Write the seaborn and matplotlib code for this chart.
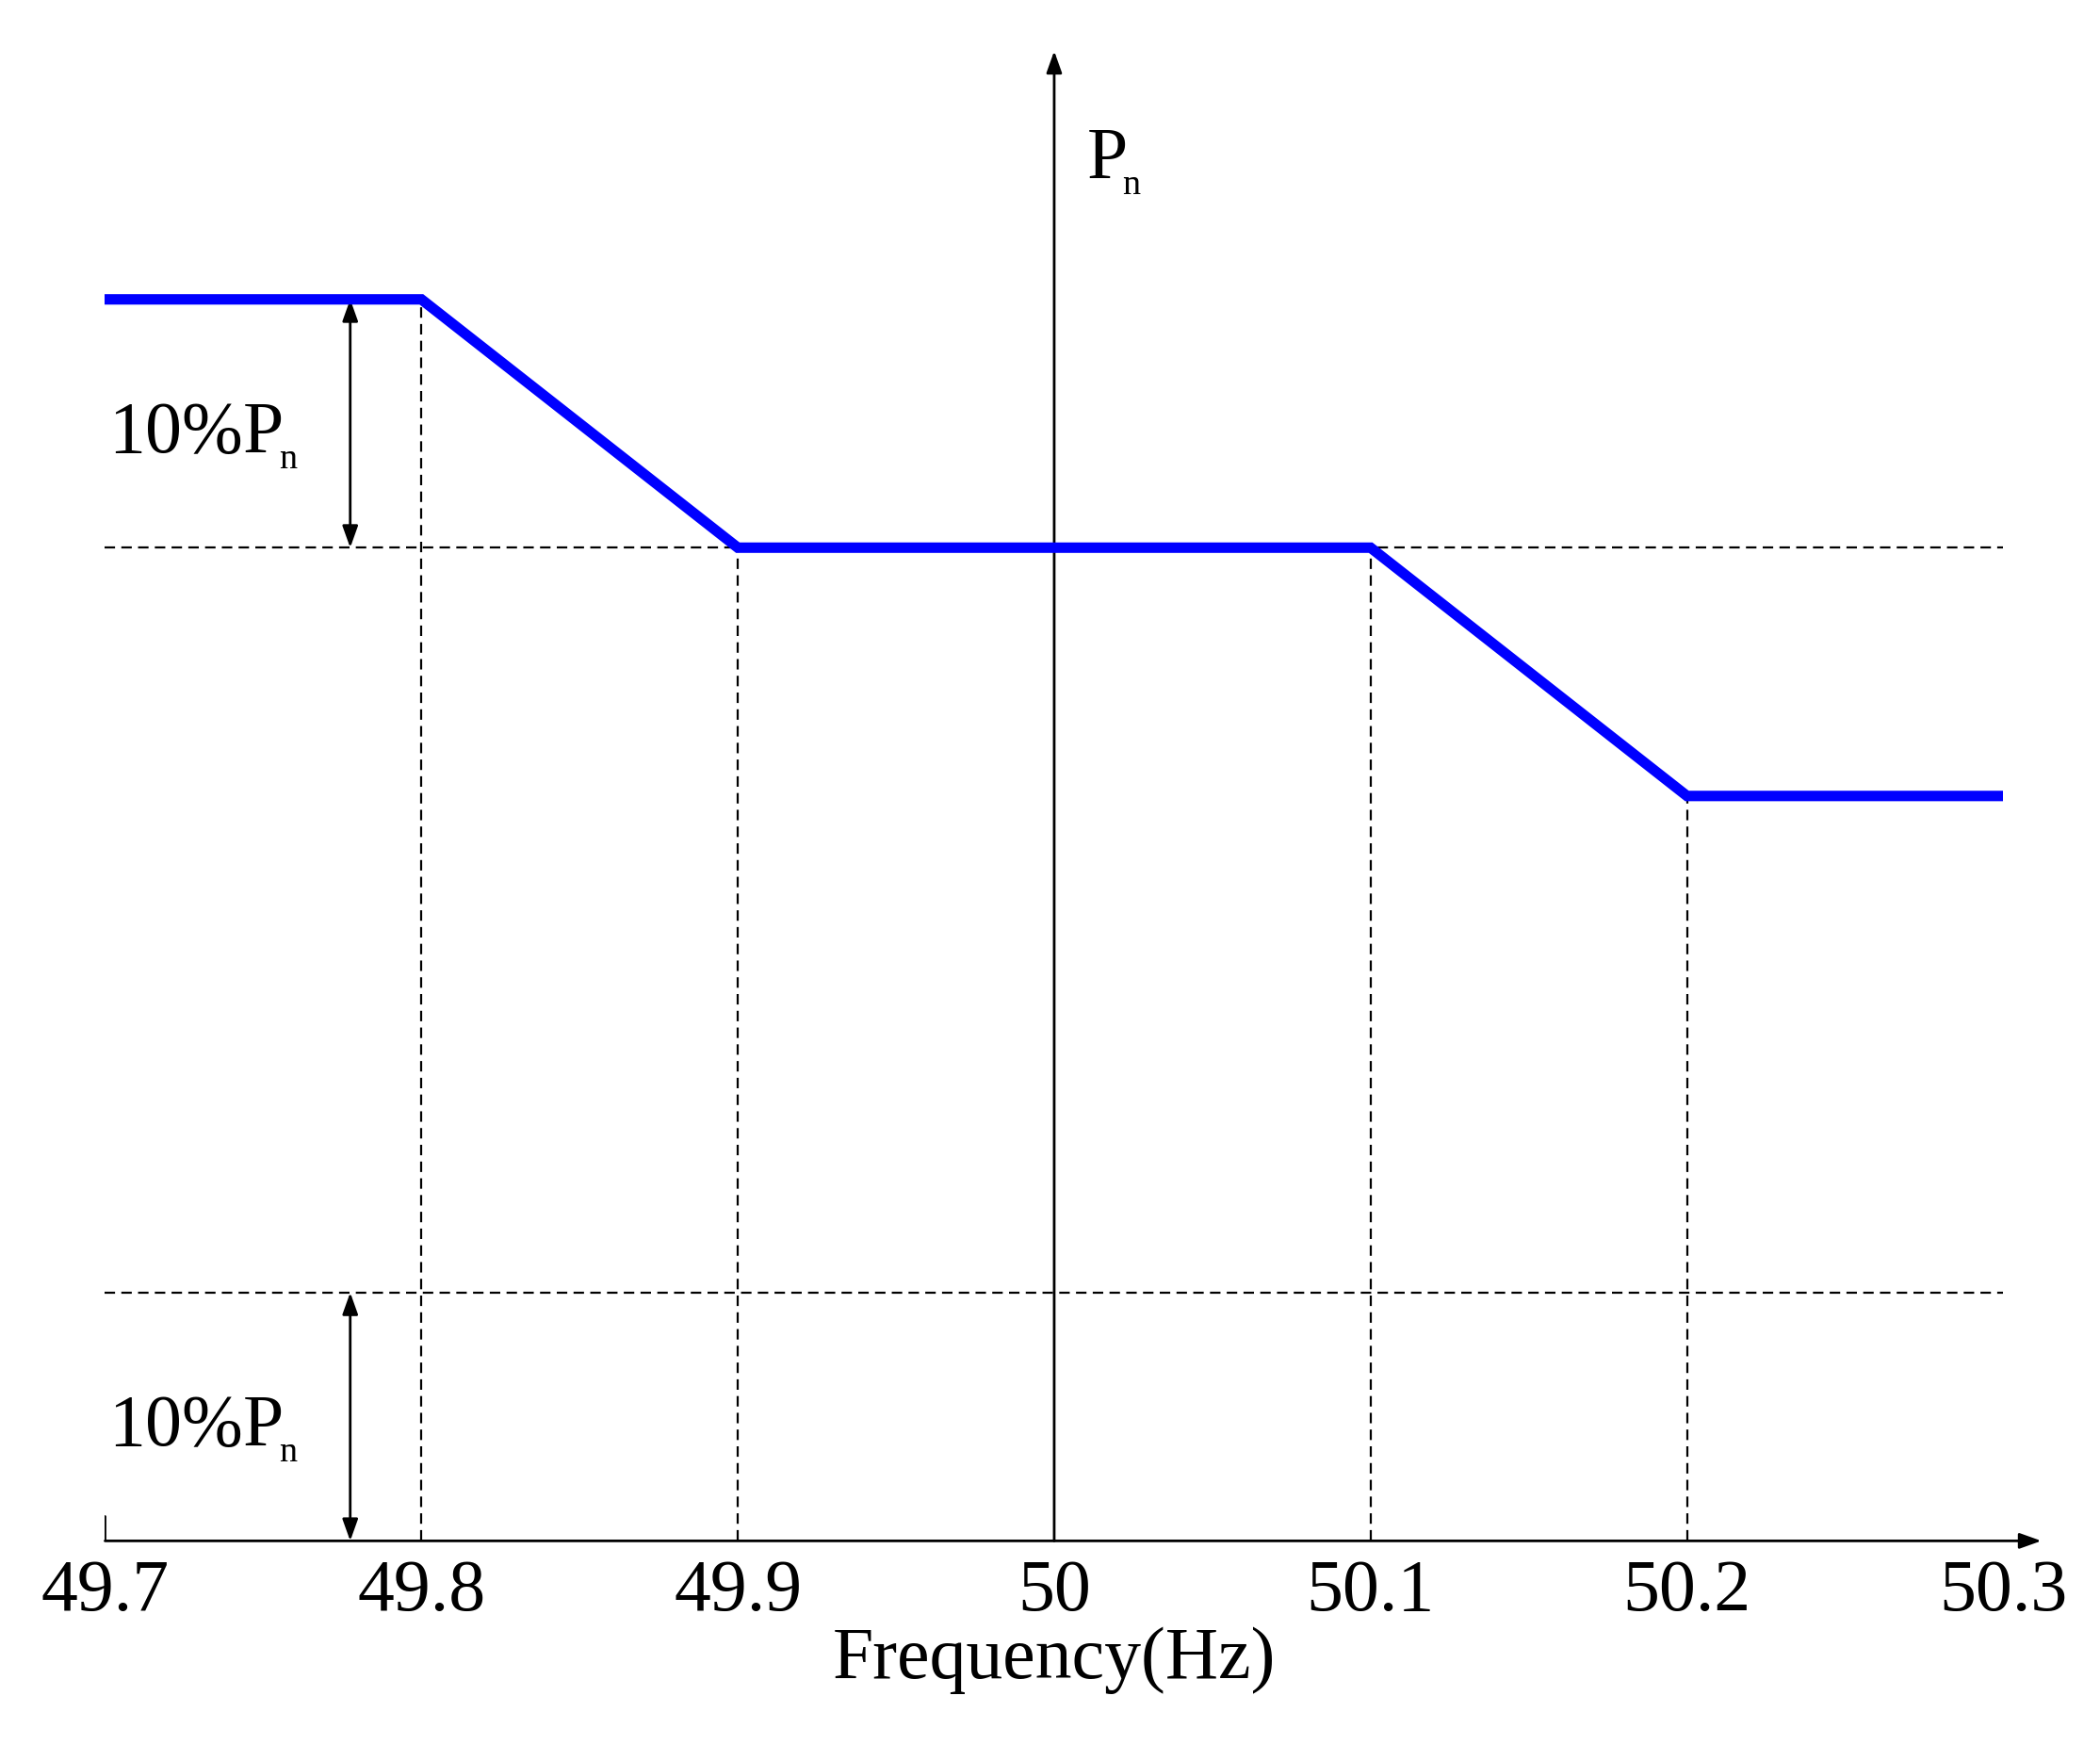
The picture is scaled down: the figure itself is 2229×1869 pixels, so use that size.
import matplotlib
matplotlib.use("Agg")
import matplotlib.pyplot as plt
import seaborn as sns
import pandas as pd

# Droop characteristic: frequency (Hz) vs output power (fraction of axis)
freq = [49.7, 49.8, 49.9, 50.1, 50.2, 50.3]
power = [0.5, 0.5, 0.4, 0.4, 0.3, 0.3]
tick_vals = [49.7, 49.8, 49.9, 50.0, 50.1, 50.2, 50.3]
tick_labels = ["49.7", "49.8", "49.9", "50", "50.1", "50.2", "50.3"]

sns.set_style("white")
plt.rcParams['font.family'] = ['Liberation Serif', 'DejaVu Serif']
plt.rcParams['mathtext.fontset'] = 'stix'
plt.rcParams['text.color'] = 'black'
plt.rcParams['xtick.color'] = 'black'
plt.rcParams['axes.labelcolor'] = 'black'

fig = plt.figure(figsize=(22.29, 18.69), dpi=100)
ax = fig.add_axes([0.05, 0.125, 0.904, 0.846])
ax.set_xlim(49.7, 50.3)
ax.set_ylim(0, 0.6)
for s in ax.spines.values():
    s.set_visible(False)

df = pd.DataFrame({"f": freq, "p": power})
sns.lineplot(data=df, x="f", y="p", ax=ax, color="#0000ff", linewidth=8,
             solid_joinstyle="miter", zorder=5)

dash = dict(color="black", linestyle=(0, (5, 3)), linewidth=1.6)
ax.plot([49.8, 49.8], [0, 0.5], **dash)
ax.plot([49.9, 49.9], [0, 0.4], **dash)
ax.plot([50.1, 50.1], [0, 0.4], **dash)
ax.plot([50.2, 50.2], [0, 0.3], **dash)
ax.plot([49.7, 50.3], [0.4, 0.4], **dash)
ax.plot([49.7, 50.3], [0.1, 0.1], **dash)

arr = dict(color="black", lw=2, shrinkA=0, shrinkB=0)
# axes with arrows
ax.annotate("", xy=(50.312, 0), xytext=(49.7, 0),
            arrowprops=dict(arrowstyle="-|>,head_length=1.4,head_width=0.5", **arr),
            annotation_clip=False)
ax.annotate("", xy=(50.0, 0.6), xytext=(50.0, 0),
            arrowprops=dict(arrowstyle="-|>,head_length=1.4,head_width=0.5", **arr),
            annotation_clip=False)
ax.plot([49.7, 49.7], [0, 0.01], color="black", lw=2)

# 10% Pn double arrows
for y0, y1 in [(0.4, 0.5), (0.0, 0.1)]:
    ax.annotate("", xy=(49.7775, y1), xytext=(49.7775, y0),
                arrowprops=dict(arrowstyle="<|-|>,head_length=1.4,head_width=0.5", **arr),
                annotation_clip=False)
lab = r"10%P$_{\!_\mathregular{n}}$"
ax.text(49.701, 0.445, lab, fontsize=56, va="center", ha="left")
ax.text(49.701, 0.045, lab, fontsize=56, va="center", ha="left")
ax.text(50.01, 0.555, r"P$_{\!_\mathregular{n}}$", fontsize=56, va="center", ha="left")

ax.set_xticks(tick_vals)
ax.set_xticklabels(tick_labels, fontsize=56)
ax.set_yticks([])
ax.tick_params(axis="x", length=0, pad=14)
ax.set_xlabel("Frequency(Hz)", fontsize=56, labelpad=0)
ax.set_ylabel("")

fig.savefig("out.png", dpi=100)
